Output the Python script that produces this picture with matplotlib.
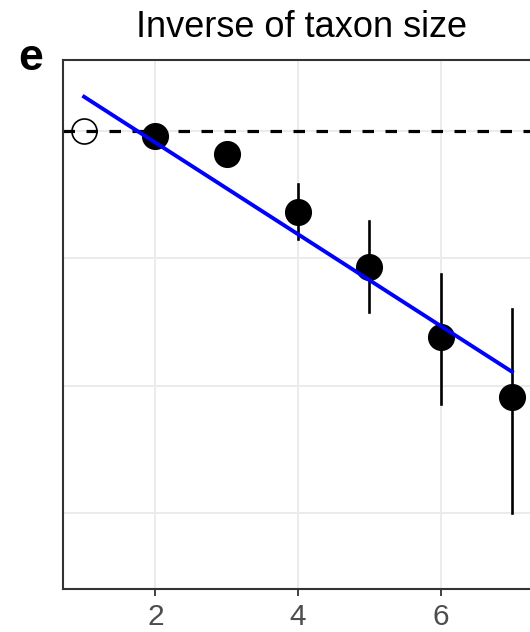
import numpy as np
import matplotlib
matplotlib.use('Agg')
import matplotlib.pyplot as plt

plt.rcParams['font.family'] = ['Liberation Sans', 'DejaVu Sans']

# taxon size and estimated effect with interval
sizes = [1, 2, 3, 4, 5, 6, 7]
effect = [0.0, -0.037, -0.181, -0.634, -1.07, -1.616, -2.087]
lower = [0.0, -0.037, -0.181, -0.851, -1.424, -2.145, -3.003]
upper = [0.0, -0.037, -0.181, -0.416, -0.707, -1.123, -1.401]

# fitted trend end points
fit_x = [1, 7]
fit_y = [0.269, -1.891]

fig = plt.figure(figsize=(5.3, 6.32), dpi=100)
ax = fig.add_axes([0.1183, 0.0676, 0.8880, 0.8375])

ax.set_xlim(0.7, 7.3)
ax.set_ylim(-3.6, 0.558)

ax.set_xticks([2, 4, 6])
ax.set_yticks([0, -1, -2, -3])
ax.grid(True, color='#EBEBEB', linewidth=1.4, zorder=0)
ax.set_axisbelow(True)
ax.tick_params(axis='x', length=5, width=1.3, color='#333333',
               labelsize=21.5, labelcolor='#4D4D4D', pad=5)
ax.tick_params(axis='y', length=0, labelleft=False)
for s in ax.spines.values():
    s.set_color('#333333')
    s.set_linewidth(1.5)

# reference level
ax.axhline(0, color='black', linewidth=2.3, linestyle=(0, (3.6, 3.6)), zorder=2)

# error bars for the estimated points
for x, lo, hi in zip(sizes[1:], lower[1:], upper[1:]):
    ax.plot([x, x], [lo, hi], color='black', linewidth=1.9, zorder=3)

ax.plot(sizes[1:], effect[1:], 'o', color='black', markersize=18.5, zorder=4)
ax.plot(sizes[0], effect[0], 'o', markerfacecolor='none', markeredgecolor='black',
        markeredgewidth=1.2, markersize=18, zorder=4)

ax.plot(fit_x, fit_y, color='#0000FF', linewidth=2.8, zorder=5)

fig.text(0.569, 0.942, 'Inverse of taxon size', ha='center', va='baseline',
         fontsize=26, color='black')
fig.text(0.034, 0.889, 'e', ha='left', va='baseline', fontsize=32,
         fontweight='bold', color='black')

plt.savefig('out.png', dpi=100)
